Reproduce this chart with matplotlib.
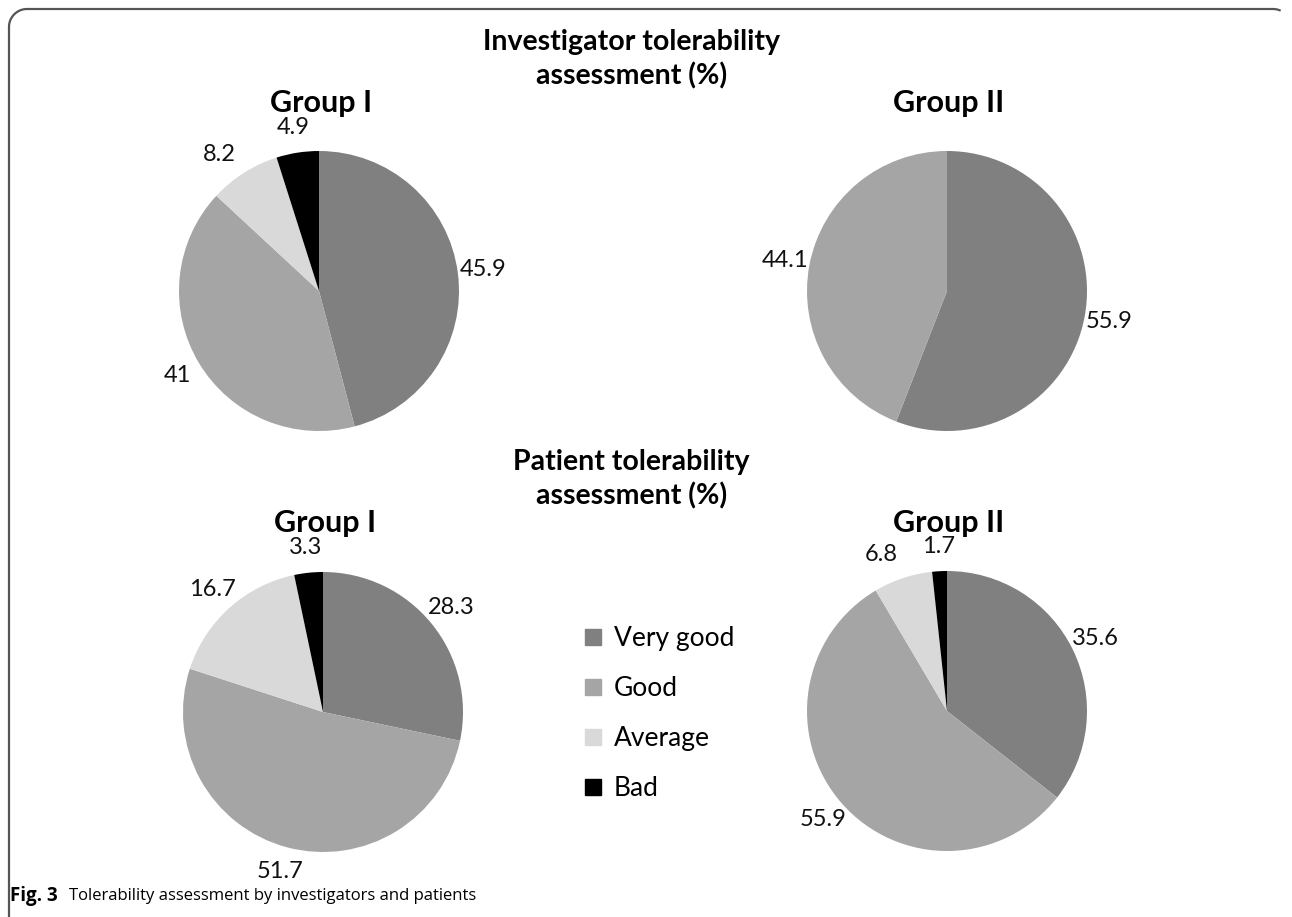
import matplotlib
matplotlib.use("Agg")
import numpy as np
import matplotlib.pyplot as plt
from matplotlib.lines import Line2D

# ── data ──────────────────────────────────────────────────────────────────────
CATEGORIES = ["Very good", "Good", "Average", "Bad"]
COLORS = ["#808080", "#a5a5a5", "#d9d9d9", "#000000"]

INV_GROUP1 = [45.9, 41, 8.2, 4.9]
INV_GROUP2 = [55.9, 44.1, 0, 0]
PAT_GROUP1 = [28.3, 51.7, 16.7, 3.3]
PAT_GROUP2 = [35.6, 55.9, 6.8, 1.7]

W, H = 1292, 917
FONT = ["Lato", "DejaVu Sans"]
plt.rcParams["font.family"] = FONT

fig = plt.figure(figsize=(W / 100, H / 100), dpi=100)


def fx(px):
    return px / W


def fy(py):
    return 1 - py / H


def draw_pie(values, cx, cy, title_y, title, r=140):
    ax = fig.add_axes([fx(cx - r), fy(cy + r), 2 * r / W, 2 * r / H])
    vals = [v for v in values if v > 0]
    cols = [c for v, c in zip(values, COLORS) if v > 0]
    labels = [f"{v:g}" for v in vals]
    wedges, texts = ax.pie(vals, colors=cols, startangle=90, counterclock=False,
                           labels=labels, labeldistance=1.18,
                           textprops=dict(fontsize=17, color="#111111"))
    ax.set_xlim(-1, 1)
    ax.set_ylim(-1, 1)
    ax.set_aspect("equal")
    ax.axis("off")
    for t in texts:
        t.set_horizontalalignment("center")
        t.set_verticalalignment("center")
        t.set_clip_on(False)
    fig.text(fx(cx + 2), fy(title_y), title, ha="center", va="center",
             fontsize=22, fontweight="bold")
    return texts


t_inv1 = draw_pie(INV_GROUP1, 319, 291, 103, "Group I")
draw_pie(INV_GROUP2, 947, 291, 103, "Group II")
draw_pie(PAT_GROUP1, 323, 712, 523, "Group I")
t_pat2 = draw_pie(PAT_GROUP2, 947, 711, 523, "Group II")

# nudge the crowded small labels a little apart
x, y = t_inv1[2].get_position()
t_inv1[2].set_position((x - 0.08, y - 0.02))
x, y = t_pat2[2].get_position()
t_pat2[2].set_position((x - 0.1, y))

fig.text(0.4885, fy(59), "Investigator tolerability\nassessment (%)", ha="center", va="center",
         fontsize=20.5, fontweight="bold", linespacing=1.35)
fig.text(0.4885, fy(479), "Patient tolerability\nassessment (%)", ha="center", va="center",
         fontsize=20.5, fontweight="bold", linespacing=1.35)

# legend
handles = [Line2D([], [], marker="s", linestyle="none", markersize=11,
                  markerfacecolor=c, markeredgecolor=c) for c in COLORS]
fig.legend(handles, CATEGORIES, loc="upper left", bbox_to_anchor=(fx(557), fy(602)),
           frameon=False, fontsize=19, labelspacing=0.95, handletextpad=0.35,
           handlelength=0.9)

# caption
fig.text(fx(10), fy(896), "Fig. 3", fontsize=13.5, fontweight="bold", va="center",
         family=["Open Sans", "DejaVu Sans"])
fig.text(fx(69), fy(896), "Tolerability assessment by investigators and patients", fontsize=12,
         va="center", family=["Open Sans", "DejaVu Sans"])

# frame: left and top edges with rounded corners
frame = fig.add_axes([0, 0, 1, 1], zorder=-1)
frame.set_xlim(0, W)
frame.set_ylim(H, 0)
frame.axis("off")
rc = 18
ang = np.linspace(np.pi, 1.5 * np.pi, 30)
arc_x = 9 + rc + rc * np.cos(ang)
arc_y = 9 + rc + rc * np.sin(ang)
ang2 = np.linspace(1.5 * np.pi, 1.62 * np.pi, 10)
arc2_x = 1273 + rc * np.cos(ang2)
arc2_y = 9 + rc + rc * np.sin(ang2)
px = np.concatenate([[9], arc_x, arc2_x])
py = np.concatenate([[H], arc_y, arc2_y])
frame.plot(px, py, color="#555555", lw=1.6, solid_joinstyle="round")

fig.savefig("out.png", dpi=100)
